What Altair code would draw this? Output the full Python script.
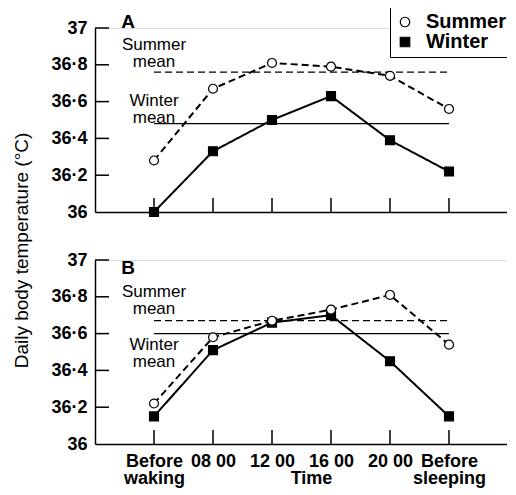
import json
import altair as alt
import pandas as pd

times = ["Before\nwaking", "08 00", "12 00", "16 00", "20 00", "Before\nsleeping"]
summer_A = [36.28, 36.67, 36.81, 36.79, 36.74, 36.56]
winter_A = [36.00, 36.33, 36.50, 36.63, 36.39, 36.22]
summer_B = [36.22, 36.58, 36.67, 36.73, 36.81, 36.54]
winter_B = [36.15, 36.51, 36.66, 36.70, 36.45, 36.15]
mean_A = {"Summer": 36.76, "Winter": 36.48}
mean_B = {"Summer": 36.67, "Winter": 36.60}
# annotation label positions (x index, y value of first line)
note_A = {"Summer": 36.908, "Winter": 36.605}
note_B = {"Summer": 36.825, "Winter": 36.537}
panel_label_y = {"A": 37.033, "B": 36.956}
panel_label_x = -0.44

y_ticks = [36.0, 36.2, 36.4, 36.6, 36.8, 37.0]
y_labels = ["36", "36·2", "36·4", "36·6", "36·8", "37"]

FONT = "Liberation Sans"
W, H = 413, 184

y_label_expr = json.dumps({f"{v:.1f}": l for v, l in zip(y_ticks, y_labels)}) + "[format(datum.value, '.1f')]"
x_label_expr = json.dumps([t.split("\n") for t in times]) + "[datum.value]"

xscale = alt.Scale(domain=[-1, 6], nice=False, zero=False)
yscale = alt.Scale(domain=[36, 37], nice=False, zero=False)
shape_scale = alt.Scale(domain=["Summer", "Winter"], range=["circle", "square"])
fill_scale = alt.Scale(domain=["Summer", "Winter"], range=["white", "black"])
stroke_scale = alt.Scale(domain=["Summer", "Winter"], range=["black", "black"])
dash_scale = alt.Scale(domain=["Summer", "Winter"], range=[[7, 4], [1, 0]])


def panel(name, summer, winter, means, notes, first):
    rows = []
    for i in range(len(times)):
        rows.append({"i": i, "season": "Winter", "v": winter[i]})
    for i in range(len(times)):
        rows.append({"i": i, "season": "Summer", "v": summer[i]})
    df = pd.DataFrame(rows)

    if first:
        xaxis = alt.Axis(labels=False, ticks=False, title=None, domainColor="black",
                         domainWidth=1.5, grid=False)
        yaxis = alt.Axis(values=y_ticks, labelExpr=y_label_expr, ticks=False, tickSize=0,
                         labelPadding=8, labelFont=FONT, labelFontSize=18,
                         labelFontWeight="bold", labelColor="black", domainColor="black",
                         domainWidth=1.5, grid=False,
                         title="Daily body temperature (°C)", titleFont=FONT,
                         titleFontSize=19, titleFontWeight="normal", titleColor="black",
                         titleAngle=270, titleX=-74, titleY=222, titleAlign="center",
                         titleBaseline="middle")
    else:
        xaxis = alt.Axis(values=list(range(len(times))), labelExpr=x_label_expr,
                         ticks=False, tickSize=0, labelPadding=8, labelFont=FONT,
                         labelFontSize=18, labelFontWeight="bold", labelColor="black",
                         labelLineHeight=17, labelBaseline="top", domainColor="black",
                         domainWidth=1.5, grid=False, labelFlush=False, labelOverlap=False,
                         title="Time", titleFont=FONT, titleFontSize=18,
                         titleFontWeight="bold", titleColor="black", titleX=216,
                         titleY=25, titleBaseline="top", titleAlign="center")
        yaxis = alt.Axis(values=y_ticks, labelExpr=y_label_expr, ticks=False, tickSize=0,
                         labelPadding=8, labelFont=FONT, labelFontSize=18,
                         labelFontWeight="bold", labelColor="black", domainColor="black",
                         domainWidth=1.5, grid=False, title=None)

    def X(f):
        return alt.X(f, scale=xscale, axis=xaxis)

    def Y(f):
        return alt.Y(f, scale=yscale, axis=yaxis)

    lines = alt.Chart(df).mark_line(color="black", strokeWidth=2).encode(
        x=X("i:Q"), y=Y("v:Q"),
        strokeDash=alt.StrokeDash("season:N", scale=dash_scale, legend=None),
        detail="season:N",
    )

    if first:
        legend = alt.Legend(orient="none", legendX=295, legendY=-21, title=None,
                            strokeColor="black", fillColor="white", padding=5,
                            labelFont=FONT, labelFontSize=20, labelFontWeight="bold",
                            labelColor="black", symbolSize=90,
                            symbolStrokeWidth=1.2, labelOffset=11, rowPadding=-1)
        shape = alt.Shape("season:N", scale=shape_scale, legend=legend)
        fill = alt.Fill("season:N", scale=fill_scale, legend=legend)
        stroke = alt.Stroke("season:N", scale=stroke_scale, legend=legend)
    else:
        shape = alt.Shape("season:N", scale=shape_scale, legend=None)
        fill = alt.Fill("season:N", scale=fill_scale, legend=None)
        stroke = alt.Stroke("season:N", scale=stroke_scale, legend=None)

    points = alt.Chart(df).mark_point(filled=False, strokeWidth=1.2,
                                      size=80, opacity=1).encode(
        x=X("i:Q"), y=Y("v:Q"), shape=shape, fill=fill, stroke=stroke
    )

    mdf = pd.DataFrame([
        {"season": s, "v": means[s], "x0": 0, "x1": len(times) - 1} for s in ["Summer", "Winter"]
    ])
    mean_rules = alt.Chart(mdf).mark_rule(color="black", strokeWidth=1.2).encode(
        x=X("x0:Q"), x2="x1:Q", y=Y("v:Q"),
        strokeDash=alt.StrokeDash("season:N", scale=dash_scale, legend=None),
    )

    ndf = pd.DataFrame([
        {"t": f"{s}\nmean", "v": notes[s], "x": 0} for s in ["Summer", "Winter"]
    ])
    note_text = alt.Chart(ndf).mark_text(font=FONT, fontSize=17, lineHeight=17,
                                         lineBreak="\n", align="center",
                                         baseline="middle", color="black").encode(
        x=X("x:Q"), y=Y("v:Q"), text="t:N"
    )

    ldf = pd.DataFrame([{"t": name, "x": panel_label_x, "v": panel_label_y[name]}])
    label = alt.Chart(ldf).mark_text(font=FONT, fontSize=19, fontWeight="bold",
                                     align="center", baseline="middle",
                                     color="black").encode(x=X("x:Q"), y=Y("v:Q"), text="t:N")

    tdf = pd.DataFrame({"v": y_ticks[1:]})
    yt = alt.Chart(tdf).mark_rule(color="black", strokeWidth=1.5).encode(
        y=Y("v:Q"), x=alt.value(0), x2=alt.value(14)
    )
    xdf = pd.DataFrame({"i": list(range(len(times)))})
    xt = alt.Chart(xdf).mark_rule(color="black", strokeWidth=1.5).encode(
        x=X("i:Q"), y=alt.value(H), y2=alt.value(H - 14)
    )

    return alt.layer(yt, xt, mean_rules, lines, points, note_text, label).properties(
        width=W, height=H
    )


pA = panel("A", summer_A, winter_A, mean_A, note_A, True)
pB = panel("B", summer_B, winter_B, mean_B, note_B, False)

chart = alt.vconcat(pA, pB, spacing=48, bounds="flush").resolve_legend(
    shape="independent", fill="independent", stroke="independent"
).properties(
    padding={"left": 3, "top": -2, "right": -6, "bottom": 0}
).configure_view(strokeWidth=0, stroke="transparent").configure(background="white")

chart.save("out.html", embed_options={"renderer": "svg", "actions": False})
